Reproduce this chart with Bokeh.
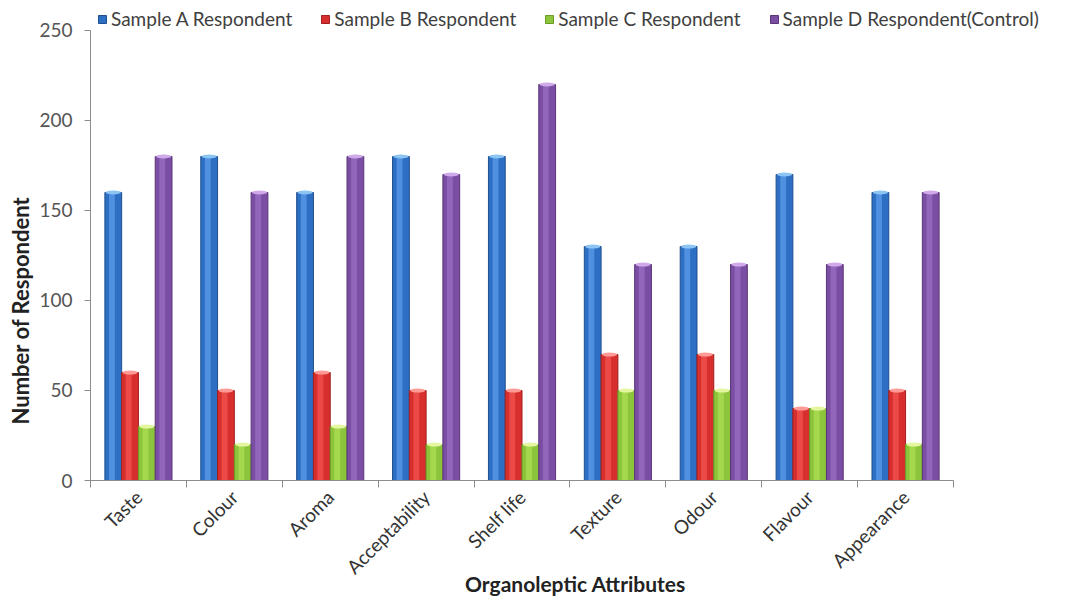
import math
from bokeh.plotting import figure
from bokeh.models import (Range1d, FixedTicker, Legend, LegendItem, Title,
                          ColumnDataSource)
from bokeh.embed import file_html
from bokeh.resources import INLINE

categories = ["Taste", "Colour", "Aroma", "Acceptability", "Shelf life",
              "Texture", "Odour", "Flavour", "Appearance"]
sample_a = [160, 180, 160, 180, 180, 130, 130, 170, 160]
sample_b = [60, 50, 60, 50, 50, 70, 70, 40, 50]
sample_c = [30, 20, 30, 20, 20, 50, 50, 40, 20]
sample_d = [180, 160, 180, 170, 220, 120, 120, 120, 160]
series_names = ["Sample A Respondent", "Sample B Respondent",
                "Sample C Respondent", "Sample D Respondent(Control)"]
y_ticks = [0, 50, 100, 150, 200, 250]
y_max = 250

FONT = "Lato"
main_cols = ["#2d6fc2", "#d62f2d", "#8cc43c", "#7a4ea2"]
dark_cols = ["#1f4f8f", "#a31f1f", "#6a9a28", "#5a3578"]
light_cols = ["#4f90e0", "#ec4a47", "#a6d84e", "#9266ba"]
cap_cols = ["#8cc4f4", "#ff9a96", "#e4f7a0", "#cfa9ea"]

W, H = 1060, 599
LEFT, BOTTOM = 90, 118
AX_RIGHT, AX_TOP = 953, 30          # where the drawn axes end (canvas px)
n = len(categories)
frame_w = W - LEFT
frame_h = H - BOTTOM
x_end = n * frame_w / (AX_RIGHT - LEFT)
y_end = y_max * frame_h / (frame_h - AX_TOP)

p = figure(width=W, height=H, output_backend="svg", toolbar_location=None,
           x_range=Range1d(0, x_end), y_range=Range1d(0, y_end),
           min_border_left=LEFT, min_border_right=0, min_border_top=0,
           min_border_bottom=BOTTOM)
p.outline_line_color = None
p.xgrid.visible = False
p.ygrid.visible = False
p.background_fill_color = "white"

bw = 0.175
offsets = [-1.5 * bw, -0.5 * bw, 0.5 * bw, 1.5 * bw]
renderers = []
for k, vals in enumerate([sample_a, sample_b, sample_c, sample_d]):
    xs = [i + 0.5 + offsets[k] for i in range(n)]
    src = ColumnDataSource(dict(x=xs, top=vals))
    r = p.vbar(x="x", top="top", width=bw, bottom=0, source=src,
               fill_color=main_cols[k], line_color=dark_cols[k], line_width=1)
    renderers.append(r)
    src2 = ColumnDataSource(dict(x=[x - bw * 0.08 for x in xs], top=vals))
    p.vbar(x="x", top="top", width=bw * 0.35, bottom=0, source=src2,
           fill_color=light_cols[k], line_color=None)
    p.ellipse(x="x", y="top", width=bw * 0.9, height=4, height_units="screen",
              source=src, fill_color=cap_cols[k], line_color=None)

p.yaxis.bounds = (0, y_max)
p.yaxis.ticker = FixedTicker(ticks=y_ticks)
p.yaxis.axis_line_color = "#8c8c8c"
p.yaxis.major_tick_line_color = "#8c8c8c"
p.yaxis.major_tick_out = 6
p.yaxis.major_tick_in = 0
p.yaxis.minor_tick_line_color = None
p.yaxis.major_label_text_font = FONT
p.yaxis.major_label_text_font_size = "19px"
p.yaxis.major_label_text_color = "#555555"
p.yaxis.major_label_standoff = 12

centers = [i + 0.5 for i in range(n)]
bounds = [float(i) for i in range(n + 1)]
p.xaxis.bounds = (0, n)
p.xaxis.ticker = FixedTicker(ticks=centers, minor_ticks=bounds)
p.xaxis.major_label_overrides = {c: name for c, name in zip(centers, categories)}
p.xaxis.major_label_orientation = math.pi / 4
p.xaxis.axis_line_color = "#8c8c8c"
p.xaxis.major_tick_line_color = None
p.xaxis.major_tick_out = 0
p.xaxis.major_tick_in = 0
p.xaxis.minor_tick_line_color = "#8c8c8c"
p.xaxis.minor_tick_out = 7
p.xaxis.minor_tick_in = 0
p.xaxis.major_label_text_font = FONT
p.xaxis.major_label_text_font_size = "19px"
p.xaxis.major_label_text_color = "#333333"
p.xaxis.major_label_standoff = 6
p.xaxis.axis_label = "Organoleptic Attributes"
p.xaxis.axis_label_text_font = FONT
p.xaxis.axis_label_text_font_style = "bold"
p.xaxis.axis_label_text_font_size = "21px"
p.xaxis.axis_label_text_color = "#222222"
p.xaxis.axis_label_standoff = -18

p.add_layout(Title(text="Number of Respondent", align="left", offset=56,
                   text_font=FONT, text_font_style="bold",
                   text_font_size="22px", text_color="#222222",
                   standoff=6), "left")

legend = Legend(items=[LegendItem(label=nm, renderers=[r])
                       for nm, r in zip(series_names, renderers)],
                orientation="horizontal", location="top_left",
                glyph_width=10, glyph_height=10, label_standoff=4,
                spacing=28, padding=1, margin=7,
                border_line_color=None, background_fill_alpha=0,
                label_text_font=FONT, label_text_font_size="19px",
                label_text_color="#404040")
p.add_layout(legend, "center")

open("out.html", "w").write(file_html(p, INLINE))
